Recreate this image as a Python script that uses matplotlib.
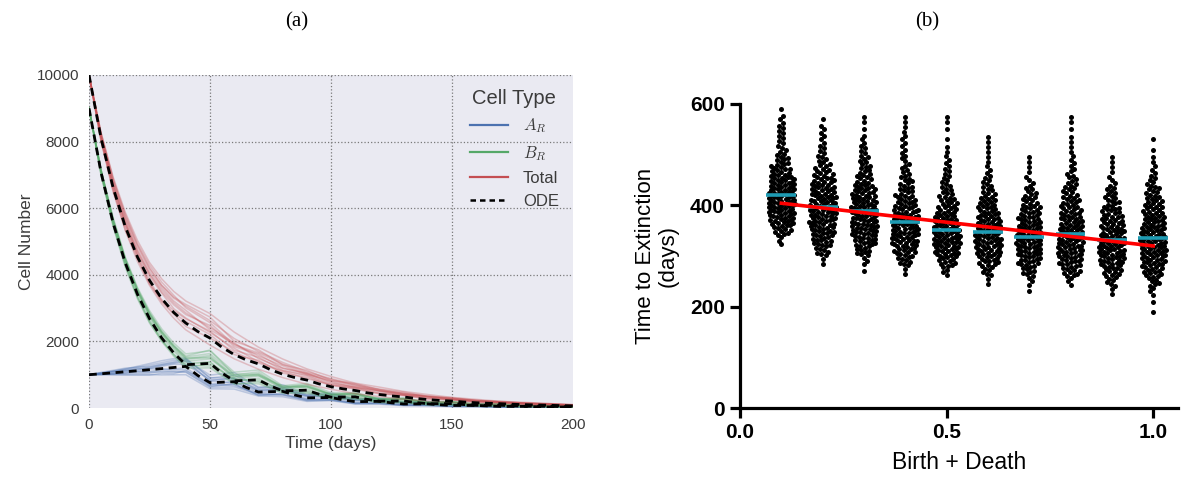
import numpy as np
import matplotlib
matplotlib.use("Agg")
import matplotlib.pyplot as plt
from matplotlib.lines import Line2D

plt.rcParams['font.family'] = ['Liberation Sans', 'DejaVu Sans']
plt.rcParams['mathtext.fontset'] = 'cm'

# ---------------- (a) cell numbers over time ----------------
t_ode = np.arange(0, 201, 5)
a_ode = [1000, 1028, 1058, 1088, 1118, 1150, 1183, 1216, 1250, 975, 760, 775, 790, 615,
         480, 490, 500, 390, 305, 310, 315, 245, 190, 195, 200, 155, 120, 122, 125, 97,
         76, 77, 78, 61, 47, 48, 49, 38, 30, 30, 31]
b_ode = [9000, 7066, 5547, 4355, 3419, 2684, 2107, 1654, 1300, 1320, 1340, 1045, 815, 830,
         845, 660, 515, 525, 535, 415, 325, 330, 335, 260, 205, 208, 212, 165, 128, 130,
         133, 103, 80, 82, 83, 65, 51, 52, 53, 41, 32]
total_ode = [10000, 8094, 6605, 5443, 4537, 3834, 3290, 2870, 2550, 2295, 2100, 1820, 1605,
             1445, 1325, 1150, 1015, 915, 840, 725, 640, 575, 525, 455, 405, 363, 332, 287,
             253, 227, 209, 180, 158, 143, 130, 113, 100, 90, 83, 71, 63]

# sample times of the stochastic runs and their percent deviation from the ODE
t_sim = [0, 5, 10, 15, 20, 25, 30, 35, 40, 50, 60, 70, 80, 90, 100, 110, 120, 130, 140,
         150, 160, 170, 180, 190, 200]
dev_a = [
    [0, 2, 5, 8, 12, 16, 20, 22, 20, 18, 25, 30, 22, 28, 35, 30, 40, 45, 38, 50, 55, 45, 60, 50, 40],
    [0, -3, -5, -8, -10, -13, -16, -18, -20, -24, -28, -25, -32, -35, -30, -38, -42, -40, -48, -45, -50, -55, -50, -60, -55],
    [0, 1, 3, 2, 5, 4, 8, 10, 12, 6, -5, 10, 15, 8, 20, 12, 25, 18, 30, 22, 15, 35, 25, 40, 30],
    [0, -1, -2, 1, -3, -5, -2, -6, -8, -12, -10, -18, -12, -20, -15, -25, -20, -30, -22, -35, -28, -40, -30, -45, -35],
    [0, 4, 7, 10, 9, 12, 15, 18, 16, 30, 35, 28, 40, 35, 45, 38, 50, 42, 55, 48, 60, 52, 65, 55, 70],
    [0, -2, -6, -9, -12, -14, -12, -15, -10, -5, -15, -8, -20, -12, -25, -18, -30, -22, -35, -28, -40, -35, -45, -38, -50],
    [0, 2, 1, 4, 6, 3, 6, 8, 5, 12, 8, 15, 10, 18, 12, 22, 15, 25, 18, 30, 20, 35, 25, 30, 20],
    [0, -3, -1, -4, -2, -6, -9, -11, -14, -18, -20, -15, -22, -28, -25, -32, -28, -35, -40, -32, -45, -38, -50, -42, -55],
    [0, 3, 4, 7, 10, 8, 11, 14, 18, 20, 12, 20, 28, 22, 30, 40, 32, 45, 50, 40, 55, 65, 50, 70, 60],
    [0, 0, -3, -2, 0, 2, -1, -4, -3, -8, 2, -5, 5, -10, 8, -12, 10, -15, 5, -20, 12, -25, 8, -30, 15],
    [0, 1, 4, 5, 3, 7, 10, 12, 14, 8, 15, 5, 12, 20, 10, 25, 18, 12, 28, 20, 35, 25, 40, 30, 45],
    [0, -1, -4, -5, -7, -9, -6, -10, -13, -15, -8, -22, -18, -25, -20, -28, -35, -25, -30, -40, -35, -45, -40, -50, -45],
]
dev_b = [
    [0, 1, 2, 3, 5, 7, 10, 14, 18, 22, 25, 20, 28, 24, 30, 26, 35, 30, 38, 32, 40, 35, 45, 38, 40],
    [0, -1, -1, -2, -3, -4, -5, -6, -8, -10, -12, -8, -15, -12, -18, -15, -20, -18, -25, -22, -28, -25, -30, -28, -32],
    [0, 1, 1, 2, 3, 4, 6, 9, 12, 15, 8, 14, 10, 18, 12, 20, 15, 22, 18, 25, 20, 28, 22, 30, 25],
    [0, 0, -1, 0, 1, 2, 1, 3, 5, 2, 6, 0, 5, -2, 8, -5, 10, -8, 12, -10, 15, -12, 18, -15, 20],
    [0, 1, 3, 4, 6, 9, 13, 18, 25, 28, 32, 35, 30, 38, 42, 35, 45, 40, 50, 45, 55, 48, 60, 50, 55],
    [0, -1, -2, -3, -4, -5, -4, -3, -1, -6, -10, -14, -10, -18, -15, -22, -18, -28, -22, -32, -28, -35, -30, -40, -35],
    [0, 0, 1, 1, 2, 3, 5, 6, 8, 10, 14, 18, 15, 20, 25, 18, 28, 22, 30, 35, 25, 40, 30, 45, 35],
    [0, 1, 2, 2, 3, 5, 8, 11, 14, 18, 15, 22, 20, 26, 22, 30, 26, 34, 28, 38, 32, 42, 35, 48, 40],
    [0, -1, 0, -1, -2, -1, -3, -2, 0, 4, -2, 6, -4, 8, -6, 10, -8, 12, -10, 15, -12, 18, -15, 20, -18],
    [0, 1, 1, 3, 4, 6, 8, 12, 16, 12, 20, 15, 25, 18, 22, 28, 20, 32, 25, 28, 35, 30, 38, 32, 45],
    [0, 0, -1, -1, -2, -3, -2, -4, -5, -2, 5, -5, 2, -8, 4, -10, 6, -12, 8, -15, 10, -18, 12, -20, 10],
    [0, 1, 2, 3, 4, 6, 9, 13, 20, 30, 22, 28, 18, 32, 25, 35, 28, 38, 30, 42, 34, 45, 36, 48, 40],
]
dev_total = [
    [0, 2, 4, 6, 8, 10, 12, 15, 20, 25, 30, 28, 35, 30, 38, 35, 40, 45, 38, 50, 45, 55, 48, 60, 50],
    [0, -1, -2, -2, -3, -4, -5, -6, -8, -10, -8, -12, -10, -15, -12, -18, -15, -20, -18, -22, -20, -25, -22, -28, -25],
    [0, 1, 3, 5, 7, 9, 12, 16, 22, 30, 25, 32, 28, 35, 30, 40, 35, 30, 42, 38, 45, 40, 52, 45, 55],
    [0, 0, 1, 2, 2, 3, 5, 4, 6, 8, 12, 5, 10, 15, 8, 18, 12, 20, 15, 25, 18, 28, 20, 30, 22],
    [0, 2, 5, 8, 11, 14, 18, 22, 26, 35, 42, 38, 45, 40, 48, 42, 55, 50, 60, 52, 65, 55, 70, 60, 65],
    [0, -1, -1, 0, 1, 0, -2, -1, 2, 5, 0, 8, 3, 10, 5, 12, 8, 15, 10, 18, 12, 20, 15, 22, 18],
    [0, 1, 2, 4, 5, 7, 10, 12, 15, 12, 20, 18, 25, 20, 28, 32, 25, 35, 30, 40, 35, 42, 38, 45, 40],
    [0, 1, 1, 2, 4, 5, 6, 8, 10, 18, 15, 22, 18, 25, 20, 15, 25, 18, 28, 22, 30, 25, 35, 28, 30],
    [0, -1, 0, 1, 0, -2, -3, -2, -4, 0, 5, 2, 8, 5, 10, 8, 5, 12, 8, 15, 10, 18, 12, 15, 10],
    [0, 2, 4, 7, 9, 12, 15, 18, 18, 22, 18, 25, 30, 25, 35, 28, 38, 32, 42, 35, 48, 40, 50, 42, 45],
    [0, 0, -1, -2, -1, -3, -1, 2, 5, 10, 8, 15, 12, 18, 15, 22, 28, 20, 32, 25, 35, 30, 38, 32, 35],
    [0, 1, 2, 3, 3, 5, 8, 10, 12, 15, 22, 12, 18, 22, 25, 20, 30, 25, 35, 30, 38, 32, 40, 35, 38],
]

cell_types = [r'$A_R$', r'$B_R$', 'Total']
type_colors = ['#4C72B0', '#55A868', '#C44E52']

# ---------------- (b) time to extinction ----------------
rates = [0.1, 0.2, 0.3, 0.4, 0.5, 0.6, 0.7, 0.8, 0.9, 1.0]
bin_lo = list(range(180, 600, 20))   # 20-day bins, 180 ... 580
bin_counts = [
    [0, 0, 0, 0, 0, 0, 0, 3, 10, 16, 18, 20, 18, 16, 12, 8, 5, 4, 4, 3, 1],
    [0, 0, 0, 0, 0, 2, 8, 12, 15, 17, 18, 17, 15, 13, 9, 6, 4, 3, 3, 1, 0],
    [0, 0, 0, 0, 1, 3, 9, 14, 17, 17, 17, 16, 14, 10, 7, 6, 4, 3, 1, 2, 0],
    [0, 0, 0, 0, 2, 8, 13, 17, 18, 17, 15, 12, 9, 7, 5, 4, 3, 3, 2, 2, 0],
    [0, 0, 0, 0, 4, 11, 16, 18, 17, 16, 12, 10, 7, 5, 4, 3, 2, 1, 1, 2, 0],
    [0, 0, 0, 2, 6, 12, 16, 18, 17, 15, 12, 10, 7, 5, 3, 2, 2, 2, 0, 0, 0],
    [0, 0, 1, 3, 8, 13, 16, 17, 16, 14, 12, 9, 6, 3, 2, 2, 0, 0, 0, 0, 0],
    [0, 0, 0, 3, 10, 14, 17, 16, 16, 14, 12, 10, 8, 6, 4, 3, 2, 2, 1, 2, 0],
    [0, 0, 2, 6, 11, 15, 17, 17, 15, 13, 11, 8, 6, 3, 2, 2, 0, 0, 0, 0, 0],
    [1, 1, 3, 7, 12, 15, 17, 17, 16, 14, 12, 10, 8, 5, 3, 2, 1, 1, 0, 0, 0],
]
group_centers = [421, 397, 388, 367, 352, 347, 338, 343, 332, 335]

W, H = 1192, 479
fig = plt.figure(figsize=(W / 100, H / 100), dpi=100)

# ---------- left panel ----------
axL = fig.add_axes([89 / W, 1 - 408 / H, (573 - 89) / W, (408 - 75) / H])
axL.set_facecolor('#EAEAF2')
for sp in axL.spines.values():
    sp.set_visible(False)
axL.set_xlim(0, 200)
axL.set_ylim(0, 10000)
axL.set_xticks([0, 50, 100, 150, 200])
axL.set_yticks([0, 2000, 4000, 6000, 8000, 10000])
axL.grid(True, color='#7a7a7a', linestyle=':', linewidth=0.9)
axL.set_axisbelow(True)
axL.xaxis.get_gridlines()[-1].set_visible(False)
axL.yaxis.get_gridlines()[0].set_visible(False)
axL.tick_params(length=0, labelsize=11, labelcolor='#3b3b3b', pad=7)
axL.set_xlabel('Time (days)', fontsize=12.5, color='#3b3b3b', labelpad=3)
axL.set_ylabel('Cell Number', fontsize=12.5, color='#3b3b3b', labelpad=2)

t_ode_arr = np.asarray(t_ode)
sim_idx = [int(np.where(t_ode_arr == t)[0][0]) for t in t_sim]
odes = [np.asarray(a_ode, float), np.asarray(b_ode, float), np.asarray(total_ode, float)]
devs = [dev_a, dev_b, dev_total]
for ode, dev, col in zip(odes, devs, type_colors):
    base = ode[sim_idx]
    for row in dev:
        axL.plot(t_sim, base * (1 + np.asarray(row) / 100.0), color=col,
                 alpha=0.3, lw=1.1, solid_joinstyle='round')
for ode in odes:
    axL.plot(t_ode, ode, color='black', lw=2.0, linestyle=(0, (2.8, 2.0)))

handles = [Line2D([], [], color=c, lw=1.6) for c in type_colors]
handles.append(Line2D([], [], color='black', lw=1.8, linestyle=(0, (2.2, 1.6))))
leg = axL.legend(handles, cell_types + ['ODE'], title='Cell Type', loc='upper right',
                 frameon=False, fontsize=12, title_fontsize=14.5, handlelength=2.3,
                 borderaxespad=0.45, labelspacing=0.5, handletextpad=0.9)
for txt in leg.get_texts():
    txt.set_color('#3b3b3b')
leg.get_title().set_color('#3b3b3b')

# ---------- right panel ----------
x0, x1, ytop = 740, 1178, 104
axR = fig.add_axes([x0 / W, 1 - 408 / H, (x1 - x0) / W, (408 - ytop) / H])
xmax, ymax = 1.06, 600
axR.set_xlim(0, xmax)
axR.set_ylim(0, ymax)
for s in ('top', 'right'):
    axR.spines[s].set_visible(False)
for s in ('left', 'bottom'):
    axR.spines[s].set_linewidth(2.3)
axR.set_xticks([0, 0.5, 1.0])
axR.set_xticklabels(['0.0', '0.5', '1.0'])
axR.set_yticks([0, 200, 400, 600])
axR.tick_params(direction='out', length=7, width=2.3, labelsize=15, pad=4)
for lbl in axR.get_xticklabels() + axR.get_yticklabels():
    lbl.set_fontweight('bold')
axR.set_xlabel('Birth + Death', fontsize=16.5, labelpad=6)
axR.set_ylabel('Time to Extinction\n(days)', fontsize=16, labelpad=8, linespacing=1.1)

px_per_x = (x1 - x0) / xmax
px_per_y = (408 - ytop) / ymax


def swarm(ypx, d):
    """Beeswarm offsets (pixels) so that no two dots sit closer than d."""
    xs = np.zeros(len(ypx))
    order = np.argsort(ypx, kind='stable')
    px, py = [], []
    flip = False
    for i in order:
        y = ypx[i]
        x = 0.0
        if px:
            ax_ = np.asarray(px)
            ay_ = np.asarray(py)
            near = np.abs(ay_ - y) < d
            nx = ax_[near]
            if nx.size:
                half = np.sqrt(d * d - (ay_[near] - y) ** 2)
                cands = np.concatenate([[0.0], nx - half, nx + half])
                bias = np.where(cands > 0, 1e-6, -1e-6) * (1 if flip else -1)
                cands = cands[np.argsort(np.abs(cands) + bias, kind='stable')]
                for c in cands:
                    if np.all(np.abs(c - nx) >= half - 1e-7):
                        x = c
                        break
        flip = not flip
        xs[i] = x
        px.append(x)
        py.append(y)
    return xs


max_half = 17.0   # column half-width in pixels
for xc, counts in zip(rates, bin_counts):
    vals = []
    for lo, n in zip(bin_lo, counts):
        for j in range(n):
            vals.append(lo + (j + 0.5) * 20.0 / n)
    vals = np.asarray(vals)
    offs = swarm(vals * px_per_y, 4.4)
    offs = max_half * np.tanh(offs / max_half)
    axR.scatter(xc + offs / px_per_x, vals, s=13, color='black', linewidths=0,
                zorder=3, clip_on=False)

half_w = 0.036
for xc, yc in zip(rates, group_centers):
    axR.plot([xc - half_w, xc + half_w], [yc, yc], color='#1E9BB3', lw=2.6,
             solid_capstyle='butt', zorder=4)

slope, intercept = np.polyfit(rates, group_centers, 1)
xfit = np.array([rates[0], rates[-1]])
axR.plot(xfit, slope * xfit + intercept, color='#FF0000', lw=2.6, zorder=5)

fig.text(297 / W, 1 - 22 / H, '(a)', ha='center', va='center', fontsize=15,
         family=['Liberation Serif', 'DejaVu Serif'])
fig.text(927 / W, 1 - 22 / H, '(b)', ha='center', va='center', fontsize=15,
         family=['Liberation Serif', 'DejaVu Serif'])

fig.savefig('out.png', dpi=100)
